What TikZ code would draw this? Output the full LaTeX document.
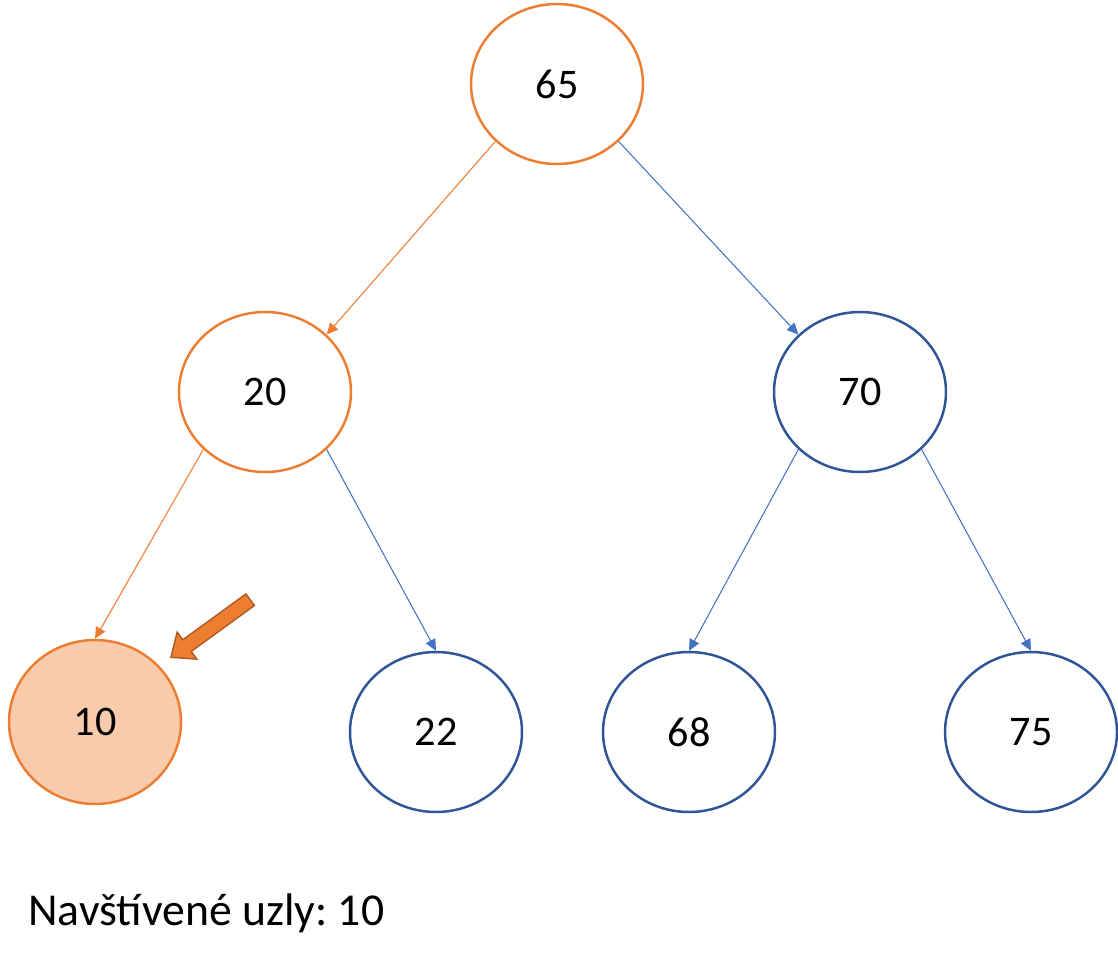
\documentclass[tikz,border=0pt]{standalone}
\usepackage{fontspec}
\setmainfont{Carlito}
\usetikzlibrary{shapes.geometric,shapes.arrows,arrows.meta}
\definecolor{edgeorange}{HTML}{ED7D31}
\definecolor{edgeblue}{HTML}{4472C4}
\definecolor{nodeblue}{HTML}{2F5597}
\definecolor{visitfill}{HTML}{F8CBAD}
\definecolor{pointerdark}{HTML}{AE5A21}
\frenchspacing
\begin{document}
\begin{tikzpicture}[
  x=0.02cm, y=-0.02cm,
  treenode/.style={ellipse, draw, line width=1.4pt, minimum width=3.44cm, minimum height=3.2cm, font=\fontsize{24}{28}\selectfont},
  hot/.style={treenode, draw=edgeorange},
  cold/.style={treenode, draw=nodeblue},
  link/.style={-{Triangle[length=6.5pt,width=6pt]}, line width=0.6pt},
  font=\fontsize{24}{28}\selectfont
]
\useasboundingbox (0,0) rectangle (1118,960);

\node[hot] (n65) at (557,84) {65};
\node[hot] (n20) at (265,392) {20};
\node[cold] (n70) at (860,392) {70};
\node[hot, fill=visitfill, minimum height=3.28cm] (n10) at (95,722) {10};
\node[cold] (n22) at (436,732) {22};
\node[cold] (n68) at (689,732) {68};
\node[cold] (n75) at (1031,732) {75};

\draw[link, edgeorange] (n65.south west) -- (n20.north east);
\draw[link, edgeblue] (n65.south east) -- (n70.north west);
\draw[link, edgeorange] (n20.south west) -- (n10.north);
\draw[link, edgeblue] (n20.south east) -- (n22.north);
\draw[link, edgeblue] (n70.south west) -- (n68.north);
\draw[link, edgeblue] (n70.south east) -- (n75.north);

\node[single arrow, draw=pointerdark, fill=edgeorange, line width=0.8pt, inner sep=0.13cm,
  minimum height=1.96cm, single arrow head extend=0.19cm, single arrow tip angle=80, rotate=216] (pointer) at (214,626) {};

\node[anchor=base west, inner sep=0, font=\fontsize{26}{30}\selectfont] (visited) at (28,925) {Navštívené uzly: 10};
\end{tikzpicture}
\end{document}
